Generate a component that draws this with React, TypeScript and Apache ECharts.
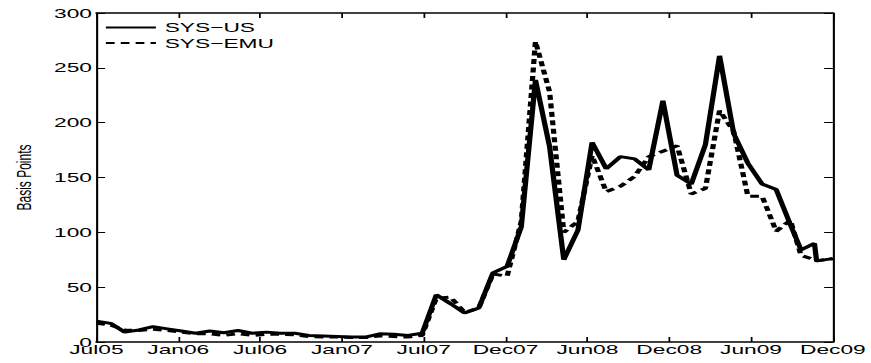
import React, { useEffect, useRef } from "react";
import * as echarts from "echarts";

// Tick labels along the time axis (evenly spaced over the sample range)
const tickLabels = ["Jul05", "Jan06", "Jul06", "Jan07", "Jul07", "Dec07", "Jun08", "Dec08", "Jun09", "Dec09"];
const yMin = 0;
const yMax = 300;
const yStep = 50;
const xMax = 52; // sample index range

// Sample positions (sample index, roughly monthly)
const sampleX = [
  0, 1, 2, 3, 4, 5, 6, 7, 8, 9,
  10, 11, 12, 13, 14, 15, 16, 17, 18, 19,
  20, 21, 22, 23, 24, 25, 26, 27, 28, 29,
  30, 31, 32, 33, 34, 35, 36, 37, 38, 39,
  40, 41, 42, 43, 44, 45, 46, 47, 48, 49,
  49.75, 50.7, 50.85, 52,
];

// SYS-US (basis points)
const sysUS = [
  19, 17, 9, 11, 14, 12, 10, 8, 10, 8.5,
  10.5, 8, 9, 8, 8, 6, 5.5, 5, 4.5, 4.5,
  7.5, 7, 6, 8, 43, 35, 26.5, 31, 63, 69,
  105, 239, 178, 75, 102, 182, 158, 169, 167, 157,
  220, 152, 144, 180, 261, 190, 163, 144, 139, 107,
  84, 90, 74, 76,
];

// SYS-EMU (basis points)
const sysEMU = [
  17, 15.5, 11, 10.5, 11.5, 10.5, 9, 7.5, 7.5, 6,
  7.5, 6, 7, 7, 6.5, 5, 4.5, 4.5, 4, 4,
  5.5, 5, 4.5, 6, 40, 41, 27, 31, 62, 60,
  110, 274, 228, 100, 110, 170, 137, 142, 151, 169,
  174, 179, 135, 140, 211, 192, 133, 133, 101, 111,
  79, 75, 74, 76,
];

const seriesNames = ["SYS\u2212US", "SYS\u2212EMU"];

const STRETCH = 1.75;
const W = 871 / STRETCH;
const H = 363;
const FONT = "'Liberation Sans', Arial, Helvetica, sans-serif";

export default function App() {
  const ref = useRef<HTMLDivElement>(null);

  useEffect(() => {
    if (!ref.current) return;
    const chart = echarts.init(ref.current, undefined, { renderer: "svg", width: W, height: H });
    const xTickValues = tickLabels.map((_, k) => (k * xMax) / (tickLabels.length - 1));
    const fmtX = (v: number) => tickLabels[Math.round((v * (tickLabels.length - 1)) / xMax)] ?? "";

    const gridLeft = 86 / STRETCH;
    const gridWidth = 750 / STRETCH;

    chart.setOption({
      animation: false,
      backgroundColor: "#ffffff",
      textStyle: { fontFamily: FONT, color: "#000" },
      grid: { left: gridLeft, top: 13, width: gridWidth, height: 329, containLabel: false },
      legend: {
        data: seriesNames,
        orient: "vertical",
        left: 59.5,
        top: 20.5,
        padding: 0,
        itemWidth: 28.6,
        itemHeight: 14,
        itemGap: 1.6,
        itemStyle: { color: "rgba(0,0,0,0)", borderWidth: 0, opacity: 0 },
        textStyle: { fontFamily: FONT, fontSize: 13, color: "#000", lineHeight: 14 },
        inactiveColor: "#000",
      },
      xAxis: [
        {
          type: "value",
          min: 0,
          max: xMax,
          position: "bottom",
          axisLine: { show: true, onZero: false, lineStyle: { color: "#000", width: 1.5 } },
          axisTick: { show: true, inside: true, length: 5, customValues: xTickValues, lineStyle: { color: "#000", width: 1 } },
          axisLabel: {
            show: true,
            customValues: xTickValues,
            formatter: fmtX,
            margin: 1,
            fontSize: 13,
            color: "#000",
            fontFamily: FONT,
          },
          splitLine: { show: false },
        },
        {
          type: "value",
          min: 0,
          max: xMax,
          position: "top",
          axisLine: { show: true, onZero: false, lineStyle: { color: "#000", width: 1.5 } },
          axisTick: { show: true, inside: true, length: 5, customValues: xTickValues, lineStyle: { color: "#000", width: 1 } },
          axisLabel: { show: false },
          splitLine: { show: false },
        },
      ],
      yAxis: [
        {
          type: "value",
          min: yMin,
          max: yMax,
          interval: yStep,
          position: "left",
          name: "Basis Points",
          nameLocation: "middle",
          nameRotate: 90,
          nameGap: 31,
          nameTextStyle: { fontFamily: FONT, fontSize: 12, color: "#000" },
          axisLine: { show: true, onZero: false, lineStyle: { color: "#000", width: 1.2 } },
          axisTick: { show: true, inside: true, length: 5, lineStyle: { color: "#000", width: 1 } },
          axisLabel: { show: true, margin: 2.5, fontSize: 13, color: "#000", fontFamily: FONT },
          splitLine: { show: false },
        },
        {
          type: "value",
          min: yMin,
          max: yMax,
          interval: yStep,
          position: "right",
          axisLine: { show: true, onZero: false, lineStyle: { color: "#000", width: 1.2 } },
          axisTick: { show: true, inside: true, length: 5, lineStyle: { color: "#000", width: 1 } },
          axisLabel: { show: false },
          splitLine: { show: false },
        },
      ],
      series: [
        {
          name: seriesNames[0],
          type: "line",
          xAxisIndex: 0,
          yAxisIndex: 0,
          symbol: "none",
          data: sampleX.map((x, i) => [x, sysUS[i]]),
          lineStyle: { color: "#000", width: 3, type: "solid" },
          itemStyle: { color: "#000" },
          z: 2,
        },
        {
          name: seriesNames[1],
          type: "line",
          xAxisIndex: 0,
          yAxisIndex: 0,
          symbol: "none",
          data: sampleX.map((x, i) => [x, sysEMU[i]]),
          lineStyle: { color: "#000", width: 3, type: [5, 3.5] },
          itemStyle: { color: "#000" },
          z: 3,
        },
      ],
    });
    return () => chart.dispose();
  }, []);

  return (
    <div
      style={{
        position: "absolute",
        left: 0,
        top: 0,
        width: W,
        height: H,
        transform: `scaleX(${STRETCH})`,
        transformOrigin: "0 0",
        background: "#fff",
      }}
    >
      <div ref={ref} style={{ width: W, height: H }} />
    </div>
  );
}
